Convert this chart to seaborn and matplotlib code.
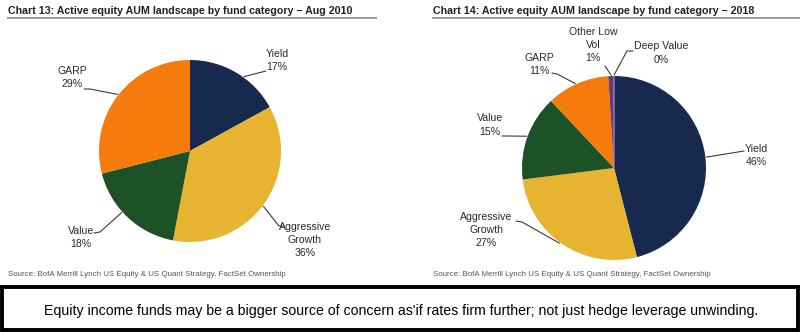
import matplotlib
matplotlib.use("Agg")
import numpy as np
import matplotlib.pyplot as plt
import seaborn as sns
from matplotlib.patches import Rectangle

sns.set_theme(style="white")
plt.rcParams["font.family"] = ["Liberation Sans", "DejaVu Sans"]

W, H = 800, 332

# Fund-category shares of active equity AUM (%), clockwise from 12 o'clock
cats_2010 = ["Yield", "Aggressive\nGrowth", "Value", "GARP"]
share_2010 = [17, 36, 18, 29]

cats_2018 = ["Yield", "Aggressive\nGrowth", "Value", "GARP", "Other Low\nVol", "Deep Value"]
share_2018 = [46, 27, 15, 11, 1, 0]

titles = ["Chart 13: Active equity AUM landscape by fund category \u2013 Aug 2010",
          "Chart 14: Active equity AUM landscape by fund category \u2013 2018"]
source = "Source: BofA Merrill Lynch US Equity & US Quant Strategy, FactSet Ownership"
note = ("Equity income funds may be a bigger source of concern as'if rates firm further; "
        "not just hedge leverage unwinding.")

cat_colors = {
    "Yield": "#17294f",
    "Aggressive\nGrowth": "#e6b430",
    "Value": "#1d5126",
    "GARP": "#f47b0c",
    "Other Low\nVol": "#6c3a6c",
    "Deep Value": "#a98bc0",
}

fig = plt.figure(figsize=(W / 100, H / 100), dpi=100)
fig.patch.set_facecolor("white")


def draw_pie(cx, cy, r, cats, shares):
    pad = 1.03
    half = r * pad
    ax = fig.add_axes([(cx - half) / W, 1 - (cy + half) / H, 2 * half / W, 2 * half / H])
    wedges, _ = ax.pie(shares, colors=[cat_colors[c] for c in cats], startangle=90,
                       counterclock=False, radius=1,
                       wedgeprops=dict(linewidth=0))
    for w, c in zip(wedges, cats):
        if c == "Deep Value":
            w.set_edgecolor(cat_colors[c])
            w.set_linewidth(0.9)
    ax.set_xlim(-pad, pad)
    ax.set_ylim(-pad, pad)
    ax.set_aspect("equal")
    ax.axis("off")
    return ax


pie_left = dict(cx=190, cy=151, r=91)
pie_right = dict(cx=614, cy=168, r=92)

draw_pie(cats=cats_2010, shares=share_2010, **pie_left)
draw_pie(cats=cats_2018, shares=share_2018, **pie_right)

# overlay in pixel coordinates for titles, labels and leader lines
ov = fig.add_axes([0, 0, 1, 1])
ov.set_xlim(0, W)
ov.set_ylim(H, 0)
ov.axis("off")

for x0, x1, t in [(7, 377, titles[0]), (432, 800, titles[1])]:
    ov.text(x0 + 1, 10.5, t, ha="left", va="center", fontsize=7.7, fontweight="bold",
            color="#222222")
    ov.plot([x0, x1], [17.5, 17.5], color="#8a8a8a", lw=1.2, solid_capstyle="butt")

for x0 in (8, 433):
    ov.text(x0, 274, source, ha="left", va="center", fontsize=5.65, color="#555555")

# label layout: text centre (px), leader stub (px), anchor angle on the rim (deg)
layout_2010 = {
    "Yield": ((277, 60.5), [(266, 71)], 54),
    "Aggressive\nGrowth": ((305, 240), [(284, 226), (279, 226)], -37),
    "Value": ((81, 237.5), [(94, 233), (100, 232)], 222),
    "GARP": ((72, 77.5), [(84, 89), (90, 89)], 142),
}
layout_2018 = {
    "Yield": ((756, 155.5), [(744, 151)], 6.7),
    "Aggressive\nGrowth": ((486, 230), [(516, 221), (522, 222)], 234),
    "Value": ((490, 125), [(502, 136), (508, 136)], 160),
    "GARP": ((539, 64.5), [(552, 73), (557, 74)], 114.6),
    "Other Low\nVol": ((593, 45), [(605, 66)], 91.8),
    "Deep Value": ((661, 53), [(633, 51), (627, 51)], 90),
}


def draw_labels(cats, shares, layout, cx, cy, r):
    for c, s in zip(cats, shares):
        (tx, ty), stub, ang = layout[c]
        ov.text(tx, ty, f"{c}\n{s:.0f}%", ha="center", va="center", fontsize=7.6,
                color="#2a2a2a", linespacing=1.4)
        a = np.deg2rad(ang)
        ex, ey = cx + r * 1.01 * np.cos(a), cy - r * 1.01 * np.sin(a)
        xs = [p[0] for p in stub] + [ex]
        ys = [p[1] for p in stub] + [ey]
        ov.plot(xs, ys, color="#3a3a3a", lw=0.8)


draw_labels(cats_2010, share_2010, layout_2010, **pie_left)
draw_labels(cats_2018, share_2018, layout_2018, **pie_right)

# boxed takeaway
ov.add_patch(Rectangle((2, 287), 796, 43, facecolor="white", edgecolor="black", lw=2.8))
ov.text(401, 311, note, ha="center", va="center", fontsize=10.2, color="black")

fig.savefig("out.png", dpi=100, facecolor="white")
